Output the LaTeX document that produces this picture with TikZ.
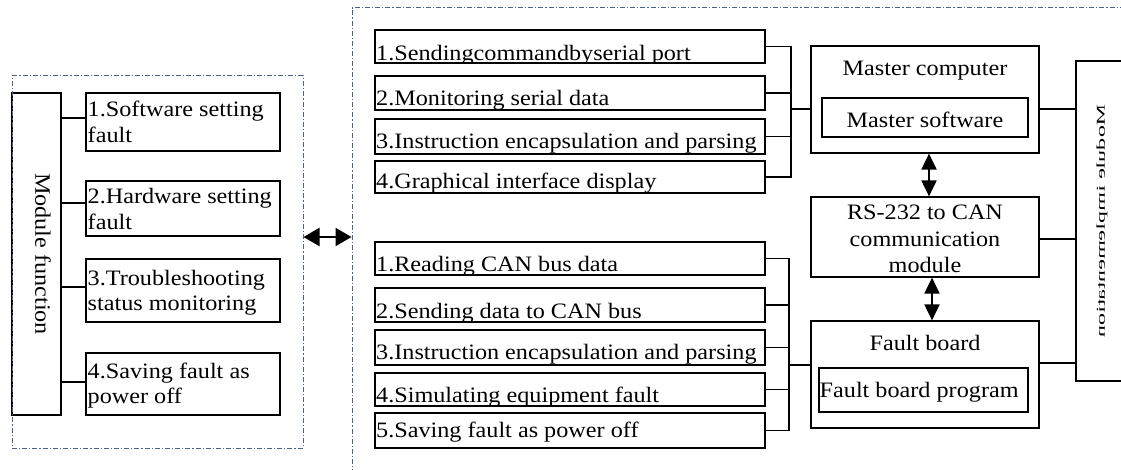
\documentclass[tikz,border=0pt]{standalone}
\usepackage{fontspec}
\setmainfont{Liberation Serif}[FakeStretch=1.1]
\usetikzlibrary{arrows.meta,fit}
\definecolor{framec}{RGB}{70,100,140}
\tikzset{
  box/.style={draw=black, line width=1.2pt, inner sep=0pt},
  frame/.style={draw=framec, line width=1pt, dash pattern=on 5pt off 2pt on 1.2pt off 2pt, inner sep=0pt},
  txt/.style={inner sep=0pt, font=\fontsize{22}{25.5}\selectfont},
  wire/.style={draw=black, line width=1.2pt},
  dblh/.style={line width=2.2pt, {Triangle[length=16pt,width=18pt]}-{Triangle[length=16pt,width=18pt]}},
  dblv/.style={line width=2pt, {Triangle[length=16pt,width=15pt]}-{Triangle[length=16pt,width=15pt]}},
}
\newcommand\bx[6][box]{\path (#3,#4) coordinate (#2-a) (#5,#6) coordinate (#2-b);
  \node[#1, fit=(#2-a)(#2-b)] (#2) {};}
\newcommand\ctext[4]{\begin{scope}\clip (#1-a) rectangle (#1-b);
  \node[txt, anchor=base west] (#1-t) at (#2,#3) {#4};\end{scope}}
\newcommand\twolines[2]{\vtop{\baselineskip=25.5pt\hbox{#1}\hbox{#2}}}
\newcommand\threec[3]{\vtop{\baselineskip=26.5pt\halign{\hfil##\hfil\cr #1\cr #2\cr #3\cr}}}
\begin{document}
\begin{tikzpicture}[x=1pt,y=-1pt]
\clip (0,0) rectangle (1121,470);
\useasboundingbox (0,0) rectangle (1121,470);

% left part
\bx{mf}{12}{93}{61}{415}
\node[txt, rotate=-90] (mft) at (43,254) {Module function};
\bx{f1}{86}{93}{280}{151}
\bx{f2}{86}{181}{280}{236}
\bx{f3}{86}{259}{280}{322}
\bx{f4}{86}{353}{280}{415}
\node[txt, anchor=base west] (f1t) at (87.5,117) {\twolines{1.Software setting}{fault}};
\node[txt, anchor=base west] (f2t) at (87.5,204) {\twolines{2.Hardware setting}{fault}};
\node[txt, anchor=base west] (f3t) at (87.5,285) {\twolines{3.Troubleshooting}{status monitoring}};
\node[txt, anchor=base west] (f4t) at (87.5,378) {\twolines{4.Saving fault as}{power off}};
\draw[wire] (mf.east |- 0,118) -- (f1.west |- 0,118);
\draw[wire] (mf.east |- 0,203) -- (f2.west |- 0,203);
\draw[wire] (mf.east |- 0,287) -- (f3.west |- 0,287);
\draw[wire] (mf.east |- 0,382) -- (f4.west |- 0,382);

% upper list
\bx{s1}{375}{30}{765}{63}
\bx{s2}{375}{76}{765}{110}
\bx{s3}{375}{119}{765}{154}
\bx{s4}{375}{161}{765}{193}
\ctext{s1}{376}{61}{1.Sendingcommandbyserial port}
\ctext{s2}{376}{106}{2.Monitoring serial data}
\ctext{s3}{376}{149}{3.Instruction encapsulation and parsing}
\ctext{s4}{376}{189}{4.Graphical interface display}

% lower list
\bx{c1}{375}{242}{765}{275}
\bx{c2}{375}{288}{765}{322}
\bx{c3}{375}{330}{765}{365}
\bx{c4}{375}{373}{765}{406}
\bx{c5}{375}{413}{765}{448}
\ctext{c1}{376}{272}{1.Reading CAN bus data}
\ctext{c2}{376}{318}{2.Sending data to CAN bus}
\ctext{c3}{376}{359}{3.Instruction encapsulation and parsing}
\ctext{c4}{376}{402}{4.Simulating equipment fault}
\ctext{c5}{376}{437}{5.Saving fault as power off}

% central blocks
\bx{mc}{811}{46}{1039}{153}
\bx{ms}{822}{98}{1028}{137}
\node[txt, anchor=base] (mct) at (925,76) {Master computer};
\node[txt, anchor=base] (mst) at (925,128) {Master software};
\bx{rs}{811}{197}{1039}{277}
\node[txt, anchor=base] (rst) at (925,220) {\threec{RS-232 to CAN}{communication}{module}};
\bx{fb}{811}{321}{1039}{428}
\bx{fp}{819}{368}{1028}{412}
\node[txt, anchor=base] (fbt) at (925,350) {Fault board};
\node[txt, anchor=base west] (fpt) at (819.5,397) {Fault board program};
\bx{mi}{1076}{61}{1135}{381}
\node[txt, rotate=90] (mit) at (1102,221) {\scalebox{-1}[0.55]{Module implementation}};

% buses upper
\coordinate (ub) at (791,0);
\draw[wire] (s1.east) -- (s1.east -| ub) |- (s4.east);
\draw[wire] (s2.east) -- (s2.east -| ub);
\draw[wire] (s3.east) -- (s3.east -| ub);
\draw[wire] (ub |- 0,109) -- (mc.west |- 0,109);
% buses lower
\coordinate (lb) at (789,0);
\draw[wire] (c1.east) -- (c1.east -| lb) |- (c5.east);
\draw[wire] (c2.east) -- (c2.east -| lb);
\draw[wire] (c3.east) -- (c3.east -| lb);
\draw[wire] (c4.east) -- (c4.east -| lb);
\draw[wire] (lb |- 0,365) -- (fb.west |- 0,365);
% right connectors
\draw[wire] (mc.east |- 0,109) -- (mi.west |- 0,109);
\draw[wire] (rs.east |- 0,239) -- (mi.west |- 0,239);
\draw[wire] (fb.east |- 0,363) -- (mi.west |- 0,363);

% vertical double arrows
\coordinate (va) at (929,0);
\coordinate (vb) at (932,0);
\draw[dblv] (mc.south -| va) -- (rs.north -| va);
\draw[dblv] (rs.south -| vb) -- (fb.north -| vb);

% frames
\bx[frame]{lf}{12}{76}{303}{448}
\bx[frame]{rf}{352}{8}{1140}{490}
\coordinate (ha) at (0,237);
\draw[dblh] (lf.east |- ha) -- (rf.west |- ha);
\end{tikzpicture}
\end{document}
